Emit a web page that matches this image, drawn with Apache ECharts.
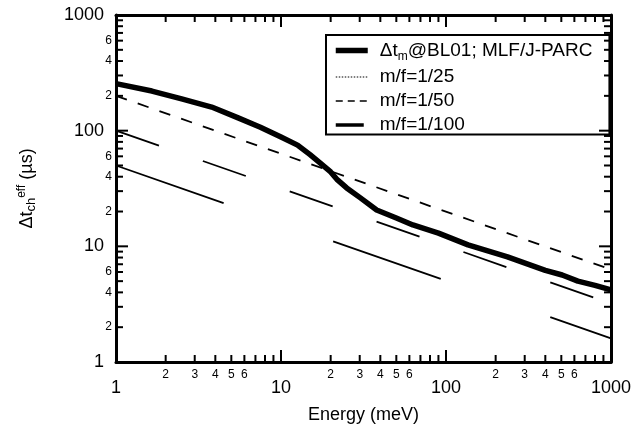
<!DOCTYPE html>
<html><head><meta charset="utf-8">
<script src="https://cdn.jsdelivr.net/npm/echarts@6/dist/echarts.min.js"></script>
<style>html,body{margin:0;padding:0;background:#fff}#c{width:634px;height:430px}</style>
</head><body><div id="c"></div>
<script>
// ---- data ----
const energyBL01 = [1, 1.65, 2.5, 3.8, 5.5, 7.5, 10, 12.6, 15, 17.3, 20, 22, 25, 30, 38, 50, 63, 90, 136, 236, 400, 506, 630, 800, 1000];
const dtBL01     = [255, 220, 188, 160, 129, 107, 88, 75, 62, 52.5, 44, 37.5, 32, 26.5, 20.6, 17.6, 15.3, 13, 10.3, 8.1, 6.2, 5.65, 5.0, 4.6, 4.2];
const energyRef  = [1, 1000];
const dtMF25     = [50, 1.6];
const dtMF50     = [200, 6.3];
const dtMF100    = [100, 3.2];
const seriesNames = ['Δtm@BL01; MLF/J-PARC', 'm/f=1/25', 'm/f=1/50', 'm/f=1/100'];
const majorTicks = [1, 10, 100, 1000];
const minorTicks = [2,3,4,5,6,7,8,9, 20,30,40,50,60,70,80,90, 200,300,400,500,600,700,800,900];
const xMinorLabels = ['2','3','4','5','6','','','', '2','3','4','5','6','','','', '2','3','4','5','6','','',''];
const yMinorLabels = ['2','','4','','6','','','', '2','','4','','6','','','', '2','','4','','6','','',''];

const FONT = 'Liberation Sans, Arial, Helvetica, sans-serif';
const pair = (xs, ys) => xs.map((x, i) => [x, ys[i]]);

function makeXTicks(len, labels) {
  return function (params, api) {
    const i = params.dataIndex;
    const p = api.coord([api.value(0), 1]);
    const cs = params.coordSys;
    const x = p[0], top = cs.y, bottom = cs.y + cs.height;
    const st = { stroke: '#000', lineWidth: 2 };
    const ch = [
      { type: 'line', shape: { x1: x, y1: bottom, x2: x, y2: bottom - len }, style: st },
      { type: 'line', shape: { x1: x, y1: top, x2: x, y2: top + len }, style: st }
    ];
    if (labels && labels[i]) ch.push({ type: 'text', x: x, y: bottom + 7,
      style: { text: labels[i], fill: '#000', font: '12px ' + FONT, align: 'center', verticalAlign: 'top' } });
    return { type: 'group', children: ch };
  };
}
function makeYTicks(len, labels) {
  return function (params, api) {
    const i = params.dataIndex;
    const p = api.coord([1, api.value(1)]);
    const cs = params.coordSys;
    const y = p[1], left = cs.x, right = cs.x + cs.width;
    const st = { stroke: '#000', lineWidth: 2 };
    const ch = [
      { type: 'line', shape: { x1: left, y1: y, x2: left + len, y2: y }, style: st },
      { type: 'line', shape: { x1: right, y1: y, x2: right - len, y2: y }, style: st }
    ];
    if (labels && labels[i]) ch.push({ type: 'text', x: left - 4, y: y,
      style: { text: labels[i], fill: '#000', font: '12px ' + FONT, align: 'right', verticalAlign: 'middle' } });
    return { type: 'group', children: ch };
  };
}

const axisCommon = {
  type: 'log', logBase: 10, min: 1, max: 1000,
  axisLine: { show: true, onZero: false, lineStyle: { color: '#000', width: 3 } },
  axisTick: { show: false },
  splitLine: { show: false },
  minorTick: { show: false }
};
const fmt = v => String(Math.round(v));
const noSym = { color: 'rgba(0,0,0,0)', borderWidth: 0, opacity: 0 };

const chart = echarts.init(document.getElementById('c'), null, { renderer: 'canvas' });
chart.setOption({
  animation: false,
  backgroundColor: '#fff',
  textStyle: { fontFamily: FONT },
  grid: { left: 116, right: 18, top: 15, bottom: 68 },
  xAxis: [
    Object.assign({}, axisCommon, {
      position: 'bottom',
      name: 'Energy (meV)', nameLocation: 'middle', nameGap: 44,
      nameTextStyle: { fontSize: 18, color: '#000', fontFamily: FONT },
      axisLabel: { margin: 17, fontSize: 18, color: '#000', fontFamily: FONT, formatter: fmt, showMinLabel: true, showMaxLabel: true }
    }),
    Object.assign({}, axisCommon, { position: 'top', axisLabel: { show: false } })
  ],
  yAxis: [
    Object.assign({}, axisCommon, {
      position: 'left',
      name: '{a|Δt}{s|ch}{p|eff}{a| (µs)}', nameLocation: 'middle', nameGap: 78, nameRotate: 90,
      nameTextStyle: {
        color: '#000', fontFamily: FONT,
        rich: {
          a: { fontSize: 18, lineHeight: 22, fontFamily: FONT, color: '#000' },
          s: { fontSize: 13, lineHeight: 13, verticalAlign: 'bottom', fontFamily: FONT, color: '#000' },
          p: { fontSize: 12, lineHeight: 14, verticalAlign: 'top', fontFamily: FONT, color: '#000' }
        }
      },
      axisLabel: { margin: 12, fontSize: 18, color: '#000', fontFamily: FONT, formatter: fmt, showMinLabel: true, showMaxLabel: true }
    }),
    Object.assign({}, axisCommon, { position: 'right', axisLabel: { show: false } })
  ],
  legend: {
    left: 326, top: 35, orient: 'vertical', align: 'left',
    backgroundColor: '#fff', borderColor: '#000', borderWidth: 2, borderRadius: 0,
    padding: [6, 17, 0, 7],
    itemWidth: 32, itemHeight: 14, itemGap: 5,
    selectedMode: false,
    formatter: function (name) {
      if (name === seriesNames[0]) return '{a|Δt}{s|m}{a|@BL01; MLF/J-PARC}';
      return '{a|' + name + '}';
    },
    textStyle: {
      color: '#000', fontFamily: FONT, fontSize: 19, padding: [0, 0, 0, 7],
      rich: {
        a: { fontSize: 19, lineHeight: 24, fontFamily: FONT, color: '#000' },
        s: { fontSize: 12, lineHeight: 12, verticalAlign: 'bottom', fontFamily: FONT, color: '#000' }
      }
    },
    data: [
      { name: seriesNames[0], itemStyle: noSym, lineStyle: { width: 5.5, type: 'solid', color: '#000' } },
      { name: seriesNames[1], itemStyle: noSym, lineStyle: { width: 1.2, type: [1.5, 1.5], color: '#000' } },
      { name: seriesNames[2], itemStyle: noSym, lineStyle: { width: 1.5, type: [7, 5], color: '#000' } },
      { name: seriesNames[3], itemStyle: noSym, lineStyle: { width: 3.5, type: [28, 20], color: '#000' } }
    ]
  },
  series: [
    { name: seriesNames[1], type: 'line', data: pair(energyRef, dtMF25), symbol: 'none', showSymbol: false,
      lineStyle: { color: '#000', width: 1.8, type: [114, 116] }, itemStyle: { color: '#000' }, z: 2 },
    { name: seriesNames[2], type: 'line', data: pair(energyRef, dtMF50), symbol: 'none', showSymbol: false,
      lineStyle: { color: '#000', width: 1.8, type: [11.5, 11.5] }, itemStyle: { color: '#000' }, z: 2 },
    { name: seriesNames[3], type: 'line', data: pair(energyRef, dtMF100), symbol: 'none', showSymbol: false,
      lineStyle: { color: '#000', width: 1.8, type: [45.5, 46.5] }, itemStyle: { color: '#000' }, z: 2 },
    { name: seriesNames[0], type: 'line', data: pair(energyBL01, dtBL01), symbol: 'none', showSymbol: false,
      lineStyle: { color: '#000', width: 5.5, cap: 'butt', join: 'round' }, itemStyle: { color: '#000' }, z: 3 },
    { type: 'custom', name: 'xmajor', silent: true, renderItem: makeXTicks(12, null),
      data: majorTicks.map(v => [v, 1]), z: 5 },
    { type: 'custom', name: 'ymajor', silent: true, renderItem: makeYTicks(12, null),
      data: majorTicks.map(v => [1, v]), z: 5 },
    { type: 'custom', name: 'xminor', silent: true, renderItem: makeXTicks(7, xMinorLabels),
      data: minorTicks.map(v => [v, 1]), z: 5 },
    { type: 'custom', name: 'yminor', silent: true, renderItem: makeYTicks(7, yMinorLabels),
      data: minorTicks.map(v => [1, v]), z: 5 }
  ]
});
</script></body></html>
